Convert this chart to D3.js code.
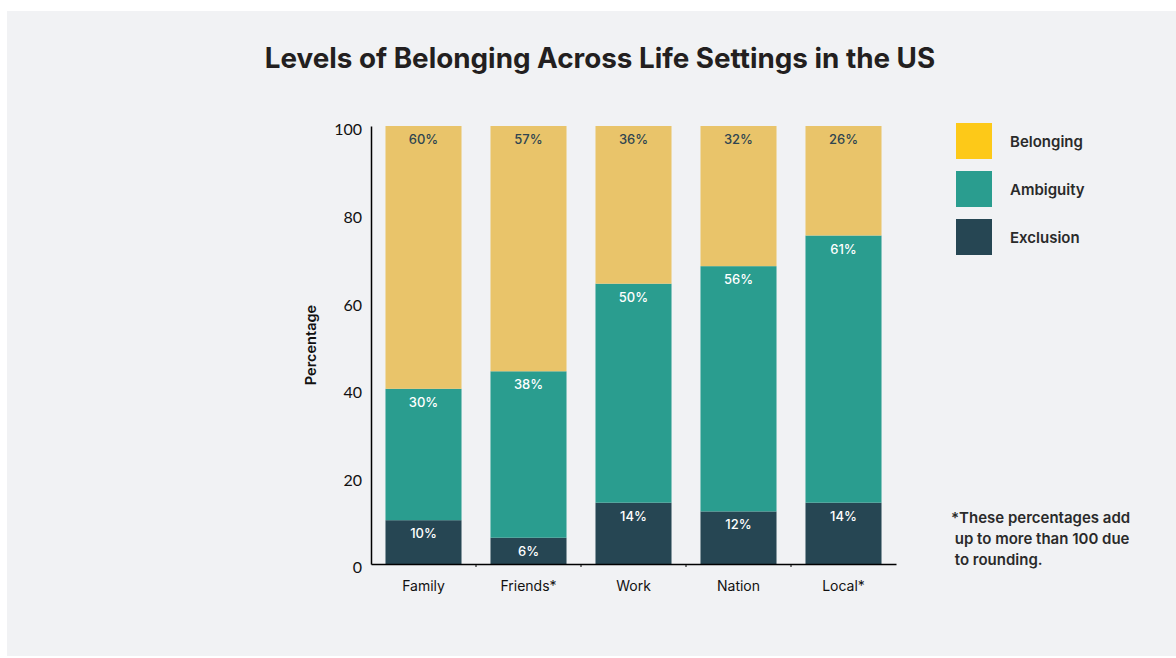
<!DOCTYPE html>
<html><head><meta charset="utf-8">
<script src="https://cdn.jsdelivr.net/npm/d3@7"></script>
<style>
html,body{margin:0;padding:0;background:#fff;}
svg{display:block;font-family:Inter, "Noto Sans", sans-serif;}
</style></head>
<body>
<svg id="c" width="1176" height="658"></svg>
<script>
const categories = ["Family","Friends*","Work","Nation","Local*"];
const seriesNames = ["Exclusion","Ambiguity","Belonging"];
const exclusion = [10, 6, 14, 12, 14];
const ambiguity = [30, 38, 50, 56, 61];
const belonging = [60, 57, 36, 32, 26];
const yTicks = [0, 20, 40, 60, 80, 100];
const legendOrder = ["Belonging","Ambiguity","Exclusion"];
const footnoteLines = ["*These percentages add", " up to more than 100 due", " to rounding."];

const barColors = {Belonging:"#E9C46A", Ambiguity:"#2A9D8F", Exclusion:"#264653"};
const legendColors = {Belonging:"#FDC918", Ambiguity:"#2A9D8F", Exclusion:"#264653"};
const labelColors = {Belonging:"#2f4550", Ambiguity:"#ffffff", Exclusion:"#ffffff"};

const svg = d3.select("#c");
svg.append("rect").attr("x",7).attr("y",11).attr("width",1169).attr("height",645).attr("fill","#f1f2f4");

svg.append("text").attr("x",600).attr("y",68).attr("text-anchor","middle")
  .attr("font-size",27.8).attr("font-weight",700).attr("fill","#231f20")
  .text("Levels of Belonging Across Life Settings in the US");

const x = d3.scaleBand().domain(categories).range([371,896]).paddingInner(0.276).paddingOuter(0.138);
const y = d3.scaleLinear().domain([0,100]).range([564,126]).clamp(true);

const table = categories.map((c,i)=>({cat:c, Exclusion:exclusion[i], Ambiguity:ambiguity[i], Belonging:belonging[i]}));
const stacked = d3.stack().keys(seriesNames)(table);

const g = svg.append("g");
stacked.forEach(s=>{
  const key = s.key;
  g.selectAll(null).data(s).enter().append("rect")
    .attr("x",d=>x(d.data.cat)).attr("width",x.bandwidth())
    .attr("y",d=>y(d[1])).attr("height",d=>y(d[0])-y(d[1]))
    .attr("fill",barColors[key]);
  g.selectAll(null).data(s).enter().append("text")
    .attr("x",d=>x(d.data.cat)+x.bandwidth()/2)
    .attr("y",d=>y(d[1])+18)
    .attr("text-anchor","middle").attr("font-size",13).attr("font-weight",500)
    .attr("fill",labelColors[key])
    .text(d=>(d[1]-d[0])+"%");
});

// y axis
const ya = svg.append("g").attr("transform","translate(371,0)")
  .call(d3.axisLeft(y).tickValues(yTicks).tickSize(0).tickPadding(9));
ya.select(".domain").attr("stroke","#000").attr("stroke-width",1.5);
ya.selectAll("text").attr("font-size",16).attr("fill","#111").attr("font-family","Lato, sans-serif").attr("dy","0.55em");

// x axis
const xa = svg.append("g").attr("transform","translate(0,564)")
  .call(d3.axisBottom(x).tickSize(0).tickPadding(17));
xa.select(".domain").attr("stroke","#000").attr("stroke-width",1.5);
xa.selectAll("text").attr("font-size",14).attr("fill","#111").attr("font-family","Inter, sans-serif");
const bounds = categories.slice(1).map(c=>x(c)-x.step()*x.paddingInner()/2);
xa.selectAll(null).data(bounds).enter().append("line")
  .attr("x1",d=>d).attr("x2",d=>d).attr("y1",0).attr("y2",3).attr("stroke","#000");

svg.append("text").attr("transform","translate(316,345) rotate(-90)")
  .attr("text-anchor","middle").attr("font-size",14.5).attr("font-weight",600).attr("fill","#111")
  .text("Percentage");

// legend
const lg = svg.append("g");
legendOrder.forEach((k,i)=>{
  lg.append("rect").attr("x",956).attr("y",123+i*48).attr("width",36).attr("height",36).attr("fill",legendColors[k]);
  lg.append("text").attr("x",1010).attr("y",142+i*48).attr("dy","0.35em")
    .attr("font-size",15).attr("font-weight",600).attr("fill","#2a2a2a").text(k);
});

// footnote
const fn = svg.append("text").attr("x",951).attr("y",523).attr("font-size",15).attr("font-weight",600).attr("fill","#2a2a2a");
footnoteLines.forEach((t,i)=>{
  fn.append("tspan").attr("x",951).attr("y",523+i*21).style("white-space","pre").text(t);
});
</script>
</body></html>
